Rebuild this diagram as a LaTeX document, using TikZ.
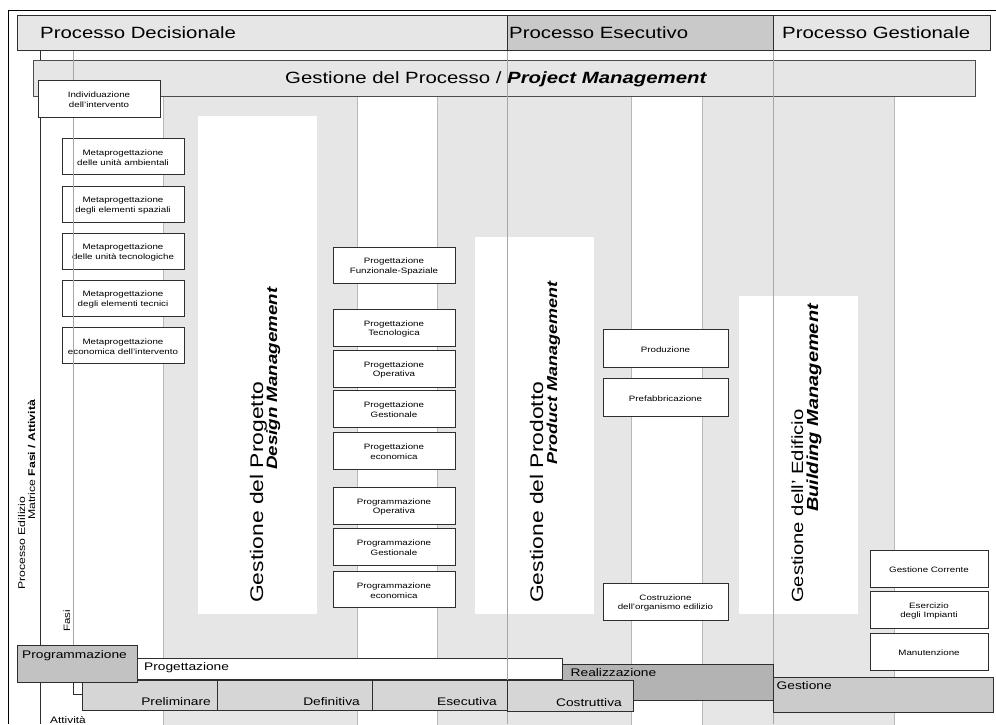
\documentclass[tikz,border=0pt]{standalone}
\usepackage{fontspec}
\setmainfont{Liberation Sans}[FakeStretch=1.25]
\usetikzlibrary{fit}

\definecolor{stripe}{HTML}{E6E6E6}
\definecolor{hdrdark}{HTML}{C9C9C9}
\definecolor{rule}{HTML}{B8B8B8}
\definecolor{procrule}{HTML}{A6A6A6}
\definecolor{edge}{HTML}{2E2E2E}
\definecolor{barprog}{HTML}{C2C2C2}
\definecolor{barreal}{HTML}{B3B3B3}
\definecolor{barges}{HTML}{CBCBCB}
\definecolor{barsub}{HTML}{D6D6D6}

\tikzset{
  smallbox/.style={draw=edge, fill=white, line width=0.9pt, inner sep=0pt},
  boxtext/.style={inner sep=0pt, align=center, font=\fontsize{7.8}{9.8}\selectfont},
  bar/.style={draw=edge, line width=0.9pt, inner sep=0pt},
  hdr/.style={draw=edge, line width=0.9pt, inner sep=0pt},
  lbl/.style={inner sep=0pt, anchor=base west},
  lblr/.style={inner sep=0pt, anchor=base east},
  vlbl/.style={inner sep=0pt, anchor=base west, rotate=90},
  big/.style={font=\fontsize{16.3}{18}\selectfont},
  mid/.style={font=\fontsize{11}{13}\selectfont},
  tiny/.style={font=\fontsize{9.8}{11}\selectfont},
}
% white box with centred caption
\newcommand\tbox[4]{%
  \node[smallbox, fit={#2 #3}] (#1) {};
  \node[boxtext] (#1-t) at ([yshift=-1.5pt]#1.center) {#4};}

\begin{document}
\begin{tikzpicture}[x=1pt, y=-1pt]
\useasboundingbox (0,0) rectangle (996,724);

% outer frame
\draw[black, line width=0.9pt] (8,724) -- (8,10) -- (996,10);

% grey activity stripes
\foreach \a/\b in {163/357, 437/631, 702/894}
  \draw[rule, fill=stripe, line width=0.8pt] (\a,60) rectangle (\b,730);

% white management panels
\fill[white] (198,116) rectangle (317,614);
\fill[white] (475,237) rectangle (594,614);
\fill[white] (739,296) rectangle (858,614);

% main axis
\draw[edge, line width=0.9pt] (40,50) -- (40,724);

% project management band
\node[bar, fill=stripe, draw=edge!85, fit={(33,60) (975,96)}] (pm) {};

% meta-design boxes
\tbox{meta1}{(62,138)}{(184,174)}{Metaprogettazione\\delle unità ambientali}
\tbox{meta2}{(62,186)}{(184,222)}{Metaprogettazione\\degli elementi spaziali}
\tbox{meta3}{(62,233)}{(184,269)}{Metaprogettazione\\delle unità tecnologiche}
\tbox{meta4}{(62,280)}{(184,316)}{Metaprogettazione\\degli elementi tecnici}
\tbox{meta5}{(62,327)}{(184,363)}{Metaprogettazione\\economica dell'intervento}

% phase axis
\draw[procrule, line width=0.9pt] (73,50) -- (73,690);
\draw[edge, line width=0.9pt] (73,682) -- (73,694) -- (82,694);

\tbox{ind}{(38,80)}{(160,117)}{Individuazione\\dell'intervento}

% design boxes
\tbox{pfs}{(333,247)}{(455,283)}{Progettazione\\Funzionale-Spaziale}
\tbox{ptec}{(333,309)}{(455,346)}{Progettazione\\Tecnologica}
\tbox{pope}{(333,350)}{(455,387)}{Progettazione\\Operativa}
\tbox{pges}{(333,390)}{(455,427)}{Progettazione\\Gestionale}
\tbox{peco}{(333,432)}{(455,469)}{Progettazione\\economica}
\tbox{gope}{(333,487)}{(455,524)}{Programmazione\\Operativa}
\tbox{gges}{(333,528)}{(455,565)}{Programmazione\\Gestionale}
\tbox{geco}{(333,571)}{(455,607)}{Programmazione\\economica}

% production boxes
\tbox{prod}{(603,329)}{(728,367)}{Produzione}
\tbox{pref}{(603,378)}{(728,416)}{Prefabbricazione}
\tbox{cost}{(603,583)}{(728,620)}{Costruzione\\dell'organismo edilizio}

% building management boxes
\tbox{gcor}{(870,550)}{(988,587)}{Gestione Corrente}
\tbox{eser}{(870,591)}{(988,628)}{Esercizio\\degli Impianti}
\tbox{manu}{(870,633)}{(988,670)}{Manutenzione}

% phase bar (design)
\node[bar, fill=white, fit={(137,658) (562,679)}] (fprog) {};

% process boundaries
\draw[procrule, line width=0.9pt] (507,50) -- (507,724);
\draw[procrule, line width=0.9pt] (773,50) -- (773,724);

% phase and activity bars
\node[bar, fill=barsub, fit={(82,680) (217,710)}] (aprel) {};
\node[bar, fill=barsub, fit={(217,680) (372,710)}] (adef) {};
\node[bar, fill=barsub, fit={(372,680) (507,710)}] (aese) {};
\node[bar, fill=barreal, fit={(562,664) (773,700)}] (freal) {};
\node[bar, fill=barsub, fit={(507,680) (633,711)}] (acos) {};
\node[bar, fill=barprog, fit={(17,645) (137,682)}] (fpgm) {};
\node[bar, fill=barges, fit={(773,677) (993,712)}] (fges) {};

% process header
\node[hdr, fill=stripe, fit={(17,15) (507,50)}] (hdec) {};
\node[hdr, fill=hdrdark, fit={(507,15) (773,50)}] (hese) {};
\node[hdr, fill=stripe, fit={(773,15) (990,50)}] (hges) {};

% header texts
\node[lbl, big] (thdec) at (40,38) {Processo Decisionale};
\node[lbl, big] (these) at (509,38) {Processo Esecutivo};
\node[lbl, big] (thges) at (782,38) {Processo Gestionale};
\node[lbl, big] (tpm) at (285,83.5) {Gestione del Processo / \textbf{\textit{Project Management}}};

% management panel texts
\node[vlbl, font=\fontsize{18.3}{20}\selectfont] (dm1) at (263,603) {Gestione del Progetto};
\node[vlbl, font=\fontsize{15}{17}\selectfont\bfseries\itshape] (dm2) at (277,470) {Design Management};
\node[vlbl, font=\fontsize{18.3}{20}\selectfont] (pm1) at (543,603) {Gestione del Prodotto};
\node[vlbl, font=\fontsize{14.4}{17}\selectfont\bfseries\itshape] (pm2) at (557,465) {Product Management};
\node[vlbl, font=\fontsize{16.2}{20}\selectfont] (bm1) at (803,603) {Gestione dell' Edificio};
\node[vlbl, font=\fontsize{16}{17}\selectfont\bfseries\itshape] (bm2) at (818,512) {Building Management};

% axis labels
\node[vlbl, tiny] (tedil) at (25,590) {Processo Edilizio};
\node[vlbl, tiny] (tmatr) at (35,520) {Matrice \textbf{Fasi / Attività}};
\node[vlbl, font=\fontsize{9.2}{11}\selectfont] (tfasi) at (70,632) {Fasi};
\node[lbl, font=\fontsize{9.5}{11}\selectfont] (tatt) at (50,723.5) {Attività};

% bar texts
\node[lbl, mid] (tpgm) at (22,658.5) {Programmazione};
\node[lbl, mid] (tprog) at (144,670.5) {Progettazione};
\node[lbl, mid] (treal) at (570.5,676) {Realizzazione};
\node[lbl, mid] (tges) at (776.5,689) {Gestione};
\node[lblr, mid] (tprel) at (211,705.5) {Preliminare};
\node[lblr, mid] (tdef) at (360,705.5) {Definitiva};
\node[lblr, mid] (tese) at (497,705.5) {Esecutiva};
\node[lblr, mid] (tcos) at (622,706) {Costruttiva};
\end{tikzpicture}
\end{document}
